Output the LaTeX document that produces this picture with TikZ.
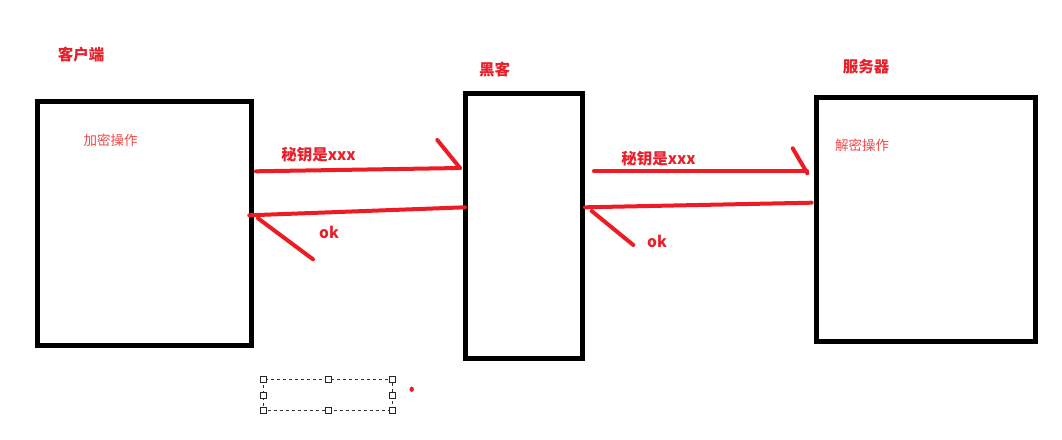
\documentclass[tikz,border=0pt]{standalone}
\usepackage{fontspec}
\newfontfamily\cjk{Noto Sans CJK SC}
\definecolor{pen}{HTML}{ED1C24}
\definecolor{lbl}{HTML}{E8202A}
\definecolor{note}{HTML}{F04848}
\begin{document}
\begin{tikzpicture}[x=1pt,y=-1pt,
  box/.style={draw=black,line width=5pt,inner sep=0pt},
  title/.style={text=lbl,font=\cjk\bfseries\fontsize{15.5}{18}\selectfont,inner sep=0pt},
  note/.style={text=note,font=\cjk\fontsize{13.5}{16}\selectfont,inner sep=0pt},
  msg/.style={text=lbl,font=\cjk\bfseries\fontsize{15.5}{18}\selectfont,inner sep=0pt},
  stroke/.style={draw=pen,line width=4pt,line cap=round},
  selbox/.style={draw=black!80,dashed,line width=0.8pt},
  handle/.style={draw=black!85,fill=white,line width=0.8pt,minimum size=6pt,inner sep=0pt}]
\useasboundingbox (0,0) rectangle (1062,439);
\fill[white] (0,0) rectangle (1062,439);
% boxes
\draw[box] (37.5,101) rectangle (251,345);
\draw[box] (465.5,93.5) rectangle (582,358);
\draw[box] (816.5,97.5) rectangle (1035,341);
% labels
\node[title] (client) at (81,55) {客户端};
\node[title] (hacker) at (494.5,70) {黑客};
\node[title] (server) at (866,67) {服务器};
\node[note] (enc) at (110.5,140) {加密操作};
\node[note] (dec) at (862,145.5) {解密操作};
\node[msg] (k1) at (318.5,154.5) {秘钥是xxx};
\node[msg] (k2) at (658.5,158.5) {秘钥是xxx};
\node[msg] (ok1) at (329,232) {ok};
\node[msg] (ok2) at (657,241) {ok};
% arrow endpoints
\coordinate (a1s) at (256,171.3);
\coordinate (a1e) at (460,168);
\coordinate (a1b) at (437.3,140);
\coordinate (a2s) at (465,207.3);
\coordinate (a2e) at (249.3,215.3);
\coordinate (a2b1) at (258,218.3);
\coordinate (a2b2) at (313,259.3);
\coordinate (a3s) at (594,171.3);
\coordinate (a3e) at (807,171.3);
\coordinate (a3b) at (792.7,148.3);
\coordinate (a3t) at (807.3,173.3);
\coordinate (a4s) at (811.7,202.7);
\coordinate (a4e) at (585,207.3);
\coordinate (a4b1) at (591.7,211);
\coordinate (a4b2) at (633.3,245);
\draw[stroke] (a1s) -- (a1e);
\draw[stroke] (a1b) -- (a1e);
\draw[stroke] (a2s) -- (a2e);
\draw[stroke] (a2b1) -- (a2b2);
\draw[stroke] (a3s) -- (a3e);
\draw[stroke] (a3b) -- (a3t);
\draw[stroke] (a4s) -- (a4e);
\draw[stroke] (a4b1) -- (a4b2);
% selection frame
\draw[selbox] (263.3,379) rectangle (392.7,410.7);
\foreach \n/\p in {h1/{(263.3,379)},h2/{(328,379)},h3/{(392.7,379)},h4/{(263.3,395)},h5/{(392.7,395)},h6/{(263.3,410.7)},h7/{(328,410.7)},h8/{(392.7,410.7)}}
  \node[handle] (\n) at \p {};
\coordinate (dot) at (411.7,389.3);
\fill[pen] (dot) ellipse [x radius=2.2pt, y radius=2.6pt];
\end{tikzpicture}
\end{document}
